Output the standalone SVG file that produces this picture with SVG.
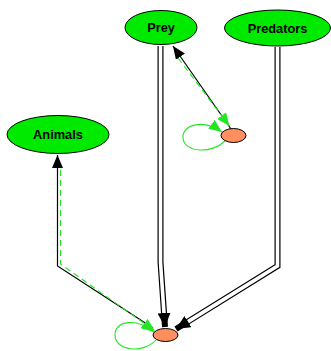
<svg xmlns="http://www.w3.org/2000/svg" width="331" height="351" viewBox="0 0 331 351">
<style>
.node-main ellipse{fill:#00ea00;stroke:#000;stroke-width:1}
.node-small ellipse{fill:#ff8f5e;stroke:#000;stroke-width:1}
text{font-family:"Liberation Sans",Arial,sans-serif;font-weight:bold;font-size:12.8px;text-anchor:middle;fill:#000}
.blk{fill:none;stroke:#000;stroke-width:1.2}
.grn{fill:none;stroke:#22e622;stroke-width:1.1}
.dash{stroke-dasharray:6,4}
.dbl-o{fill:none;stroke:#000;stroke-width:6}
.dbl-i{fill:none;stroke:#fff;stroke-width:3.6}
</style>
<defs>
<marker id="ab" markerUnits="userSpaceOnUse" markerWidth="13" markerHeight="11" refX="13" refY="5.5" orient="auto"><path d="M0,0 L13,5.5 L0,11 z" fill="#000"/></marker>
<marker id="ag" markerUnits="userSpaceOnUse" markerWidth="13" markerHeight="11" refX="13" refY="5.5" orient="auto"><path d="M0,0 L13,5.5 L0,11 z" fill="#22e622"/></marker>
<marker id="abb" markerUnits="userSpaceOnUse" markerWidth="14" markerHeight="13" refX="14" refY="6.5" orient="auto"><path d="M0,0 L14,6.5 L0,13 z" fill="#000"/></marker>
</defs>
<g id="edges">
<path class="dbl-o" d="M160.5,46 L160.5,262 L165,327" marker-end="url(#abb)"/>
<path class="dbl-i" d="M160.5,46 L160.5,262 L164,313"/>
<path class="dbl-o" d="M277.5,47 L277.5,266 L176,329" marker-end="url(#abb)"/>
<path class="dbl-i" d="M277.5,47 L277.5,266 L188,321.6"/>
<path class="blk" d="M153,328 L57.5,266 L57.5,155" marker-end="url(#ab)"/>
<path class="grn dash" d="M60.5,170 L60.5,264 L155,331" marker-end="url(#ag)"/>
<path class="blk" d="M231,129 L173,46" marker-end="url(#ab)"/>
<path class="grn dash" d="M178,58 L229.5,126" marker-end="url(#ag)"/>
<path class="grn" d="M225,141 C212,154 184,153 183,138 C182,124 204,119 222,132" marker-end="url(#ag)"/>
<path class="grn" d="M156,340 C143,354 115,351 115,335 C115,320 137,318 154,332" marker-end="url(#ag)"/>
</g>
<g id="prey" class="node-main"><ellipse cx="161" cy="27.5" rx="36" ry="17"/><text x="161" y="32">Prey</text></g>
<g id="predators" class="node-main"><ellipse cx="277.5" cy="28" rx="53" ry="18"/><text x="277.5" y="32.5">Predators</text></g>
<g id="animals" class="node-main"><ellipse cx="58" cy="134.5" rx="51" ry="19"/><text x="58" y="139">Animals</text></g>
<g id="n1" class="node-small"><ellipse cx="233.5" cy="135.5" rx="12.5" ry="7"/></g>
<g id="n2" class="node-small"><ellipse cx="165.5" cy="335" rx="12.5" ry="6.5"/></g>
</svg>
